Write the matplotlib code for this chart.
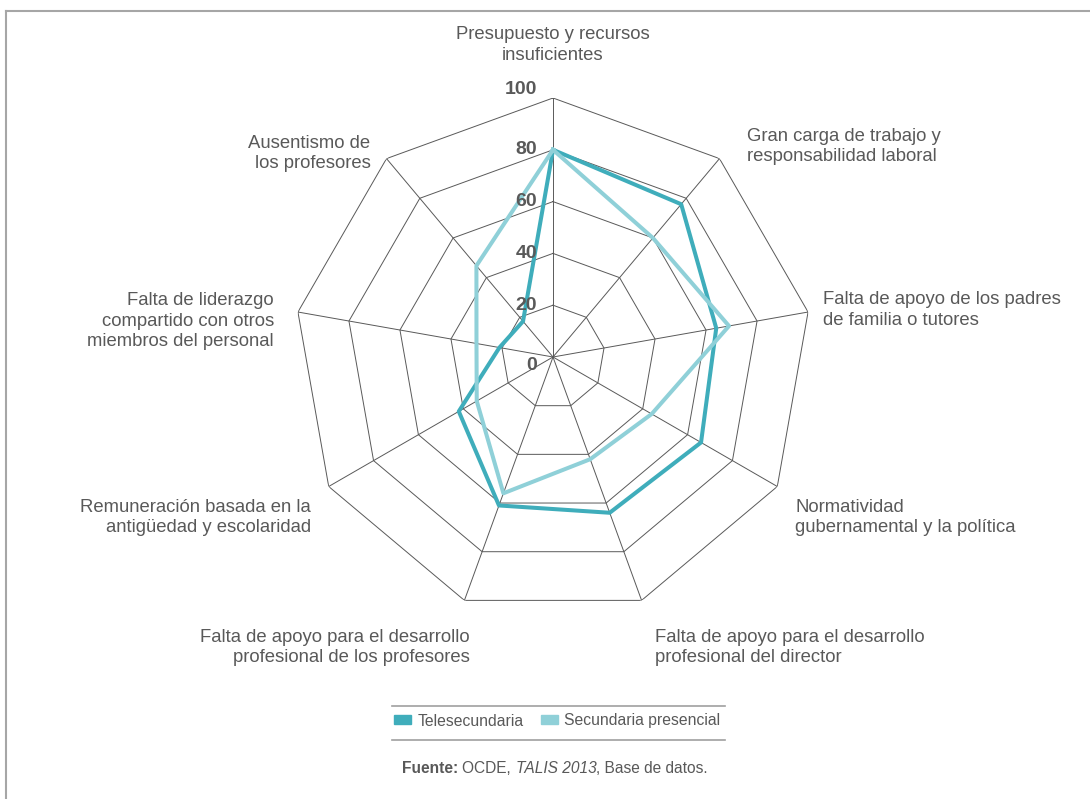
import numpy as np
import matplotlib
matplotlib.use("Agg")
import matplotlib.pyplot as plt
from matplotlib.lines import Line2D
from matplotlib.patches import Patch

plt.rcParams['font.family'] = ['Liberation Sans', 'DejaVu Sans']

# datos (lectura del grafico)
categorias = [
    "Presupuesto y recursos\ninsuficientes",
    "Gran carga de trabajo y\nresponsabilidad laboral",
    "Falta de apoyo de los padres\nde familia o tutores",
    "Normatividad\ngubernamental y la política",
    "Falta de apoyo para el desarrollo\nprofesional del director",
    "Falta de apoyo para el desarrollo\nprofesional de los profesores",
    "Remuneración basada en la\nantigüedad y escolaridad",
    "Falta de liderazgo\ncompartido con otros\nmiembros del personal",
    "Ausentismo de\nlos profesores",
]
telesecundaria = [80, 77, 64, 66, 64, 61, 42, 21, 18]
presencial = [80, 60, 69, 44, 42, 56, 34, 30, 46]
niveles = [0, 20, 40, 60, 80, 100]
series_nombres = ["Telesecundaria", "Secundaria presencial"]

c_tele = "#3fadbb"
c_pres = "#8fd0d8"
c_grid = "#595959"
c_txt = "#595959"

W, H = 1090, 799
fig = plt.figure(figsize=(W / 100, H / 100), dpi=100)

cx, cy, R = 553, 357, 259
ax = fig.add_axes([(cx - R) / W, 1 - (cy + R) / H, 2 * R / W, 2 * R / H],
                  projection='polar')
ax.set_theta_zero_location('N')
ax.set_theta_direction(-1)
ax.set_ylim(0, 100)
ax.grid(False)
ax.spines['polar'].set_visible(False)
ax.set_xticks([])
ax.set_yticks([])
ax.patch.set_alpha(0)

n = len(categorias)
ang = np.linspace(0, 2 * np.pi, n, endpoint=False)
ang_c = np.append(ang, ang[0])

# rejilla poligonal
for v in niveles[1:]:
    ax.plot(ang_c, [v] * (n + 1), color=c_grid, lw=0.7, zorder=1)
for a in ang:
    ax.plot([a, a], [0, 100], color=c_grid, lw=0.7, zorder=1)

ax.plot(ang_c, telesecundaria + telesecundaria[:1], color=c_tele, lw=2.9, zorder=3)
ax.plot(ang_c, presencial + presencial[:1], color=c_pres, lw=2.9, zorder=4)

# etiquetas de nivel
for v in niveles:
    dy = 8 if v == 100 else (-9 if v == 0 else 0)
    ax.annotate(str(v), xy=(0, v), xytext=(-16, dy), textcoords='offset pixels',
                ha='right', va='center', fontsize=14, fontweight='bold',
                color=c_txt, zorder=5)

# etiquetas de categorias (desplazamiento en pixeles, alineacion)
offs = [(0, 34, 'center', 'bottom'), (28, 12, 'left', 'center'),
        (15, 2, 'left', 'center'), (18, -31, 'left', 'center'),
        (13, -47, 'left', 'center'), (5, -47, 'right', 'center'),
        (-18, -31, 'right', 'center'), (-24, -9, 'right', 'center'),
        (-16, 5, 'right', 'center')]
for a, lab, (dx, dy, ha, va) in zip(ang, categorias, offs):
    ax.annotate(lab, xy=(a, 100), xytext=(dx, dy), textcoords='offset pixels',
                ha=ha, va=va, fontsize=13.3, color=c_txt, linespacing=1.28,
                annotation_clip=False)

# leyenda
handles = [Patch(color=c_tele), Patch(color=c_pres)]
fig.legend(handles, series_nombres, loc='center', bbox_to_anchor=(557 / W, 1 - 721 / H),
           ncol=2, frameon=False, fontsize=11.3, handlelength=1.1, handleheight=0.5,
           handletextpad=0.4, columnspacing=1.1, labelcolor=c_txt)
for yy in (706, 740):
    fig.add_artist(Line2D([392 / W, 725 / W], [1 - yy / H] * 2,
                          transform=fig.transFigure, color="#a0a0a0", lw=1.2))

# fuente
renderer = fig.canvas.get_renderer()
partes = [("Fuente: ", 'bold', 'normal'), ("OCDE, ", 'normal', 'normal'),
          ("TALIS 2013", 'normal', 'italic'), (", Base de datos.", 'normal', 'normal')]
x = 402 / W
for txt, fw, fs in partes:
    t = fig.text(x, 1 - 773 / H, txt, fontsize=11.2, fontweight=fw, fontstyle=fs,
                 color=c_txt, ha='left', va='baseline')
    x += t.get_window_extent(renderer).width / W

# marco
fig.add_artist(Line2D([6 / W, 1.0], [1 - 11 / H] * 2, transform=fig.transFigure,
                      color="#a6a6a6", lw=1.5))
fig.add_artist(Line2D([6 / W, 6 / W], [0, 1 - 11 / H], transform=fig.transFigure,
                      color="#a6a6a6", lw=1.5))

fig.savefig("out.png", dpi=100)
